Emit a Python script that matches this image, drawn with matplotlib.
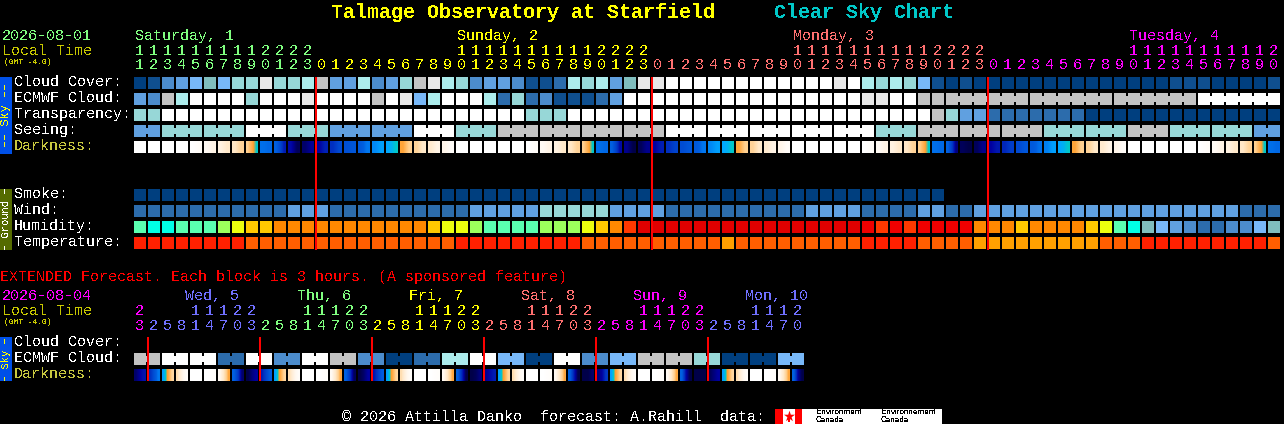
import matplotlib
matplotlib.use('Agg')
import numpy as np
import matplotlib.pyplot as plt
from matplotlib.colors import LinearSegmentedColormap
from matplotlib.patches import Rectangle

# ------------------------data
# cloud style colour scale, index = code used in the rows below
SCALE = ['#003f7f', '#0f4f8f', '#2c6cac', '#4c8ccc', '#60a0e0', '#78b8f8',
         '#80bebe', '#97d7d7', '#acecec', '#c3c3c3', '#e8e8e8', '#ffffff']
HUM = {'a': '#00ffe6', 'b': '#5affb0', 'c': '#9cff5c', 'd': '#ecff0e',
       'e': '#ffc800', 'f': '#ff8800', 'g': '#ff3800', 'h': '#e00000', 'i': '#f00000',
       '6': SCALE[6], '5': SCALE[5], '4': SCALE[4], '3': SCALE[3], '2': SCALE[2]}
TEMP = {'r': '#ff2000', 'o': '#ff5e00', 'a': '#ffa000'}

hours = list(range(11, 24)) + list(range(24)) + list(range(24)) + list(range(21))
day_names = ['Saturday, 1', 'Sunday, 2', 'Monday, 3', 'Tuesday, 4']
day_lengths = [13, 24, 24, 21]
day_colors = ['#80ff80', '#ffff00', '#ff7070', '#ff00ff']

cloud_cover = [0, 1, 3, 4, 5, 6, 5, 7, 7, 10, 7, 7, 8,
               9, 4, 4, 8, 3, 4, 7, 9, 10, 8, 7, 3, 4, 4, 3, 1, 1, 2, 8, 7, 8, 4, 6, 10,
               10, 11, 11, 11, 11, 11, 11, 11, 11, 11, 11, 11, 11, 10, 11, 8, 7, 8, 7, 5, 1, 0, 1, 0,
               0, 0, 0, 0, 0, 0, 0, 0, 0, 0, 0, 0, 0, 1, 1, 1, 0, 0, 0, 0, 1]
ecmwf = [4, 3, 9, 8, 11, 11, 11, 11, 7, 11, 11, 11, 10,
         11, 11, 11, 11, 9, 11, 10, 5, 8, 11, 11, 11, 8, 2, 7, 2, 3, 1, 1, 1, 2, 4, 11, 11,
         11, 11, 11, 11, 11, 11, 11, 11, 11, 11, 11, 11, 11, 11, 11, 10, 10, 11, 11, 9, 9,
         9, 9, 9, 9, 9, 9, 9, 9, 9, 9, 9, 9, 9, 9, 9, 9, 9, 9, 11, 11, 11, 11, 11, 11]
ecmwf_groups = [1] * 58 + [6, 6, 6, 6]
transparency = [7, 7] + [11] * 26 + [7, 7, 7] + [11] * 26 + [9, 7, 4, 4] \
    + [2] * 7 + [0] * 14
seeing = [4, 4, 7, 7, 7, 7, 7, 7, 11, 11, 11, 7, 7, 7, 4, 4, 4, 4, 4, 4, 11, 11, 11,
          7, 7, 7, 9, 9, 9, 9, 9, 9, 9, 9, 9, 9, 9, 9, 11, 11, 11, 11, 11, 11, 11, 11, 11,
          11, 11, 11, 11, 11, 11, 7, 7, 7, 9, 9, 9, 9, 9, 9, 9, 9, 9, 7, 7, 7, 7, 7, 7,
          9, 9, 9, 7, 7, 7, 7, 7, 7, 4, 4]
seeing_groups = [2] + [3] * 26 + [2]
smoke = [0] * 58
wind = [2] * 11 + [4, 4, 4] + [2] * 10 + [4] * 5 + [7] * 5 + [4] * 4 + [2] * 10 \
    + [4] * 4 + [2] * 4 + [4, 4, 2, 2] + [4] * 19 + [2, 2, 2]
humidity = list('baabbbcdee' + 'f' * 11 + 'eddcbbbbcccdefg' + 'h' * 16 + 'igigiiii'
                + 'fffeffffedba' + '654322' + '3356')
temperature = list('r' * 8 + 'o' * 15 + 'r' * 9 + 'o' * 10 + 'a' + 'o' * 9 + 'r' * 4
                   + 'o' * 4 + 'a' * 9 + 'ooo' + 'r' * 9 + 'o')

# darkness, 0 = daylight, 1 = darkest, samples across each hour block
darkness = [
    (0, 0), (0, 0), (0, 0), (0, 0), (0, .03), (.05, .12), (.14, .24), (.25, .36),
    (.38, .44, .50, .53), (.63, .64), (.65, .72, .84), (.88, .98), (.96, .91),
    (.90, .83), (.80, .72), (.70, .68), (.67, .62), (.60, .57), (.56, .55, .53), (.49, .38),
    (.36, .24), (.22, .12), (.10, .03), (0, 0), (0, 0), (0, 0), (0, 0), (0, 0), (0, .03),
    (.05, .12), (.14, .24), (.25, .36), (.38, .44, .50, .53), (.63, .64), (.65, .74, .88),
    (.92, 1.0), (.98, .92),
    (.90, .84), (.80, .74), (.71, .68), (.67, .62), (.60, .57), (.56, .55, .53), (.49, .38),
    (.36, .24), (.22, .12), (.10, .03), (0, 0), (0, 0), (0, 0), (0, 0), (0, 0), (0, .03),
    (.05, .12), (.14, .24), (.25, .36), (.38, .44, .50, .53), (.63, .64), (.65, .76, .94),
    (.98, 1.0), (.98, .92),
    (.90, .85), (.82, .76), (.72, .68), (.67, .63), (.61, .57), (.56, .55, .53), (.49, .38),
    (.36, .24), (.22, .12), (.10, .03), (0, 0), (0, 0), (0, 0), (0, 0), (0, 0), (0, .03),
    (.05, .12), (.14, .24), (.25, .36), (.38, .44, .50, .53), (.63, .64),
]

ext_hours = [23] + [2, 5, 8, 11, 14, 17, 20, 23] * 5 + [2, 5, 8, 11, 14, 17, 20]
ext_names = ['Wed, 5', 'Thu, 6', 'Fri, 7', 'Sat, 8', 'Sun, 9', 'Mon, 10']
ext_lengths = [1, 8, 8, 8, 8, 8, 7]
ext_colors = ['#ff00ff', '#7070ff', '#80ff80', '#ffff00', '#ff7070', '#ff00ff', '#7070ff']
ext_ecmwf = [9, 11, 11, 2, 11, 3, 11, 9, 3, 0, 2, 8, 11, 5, 0, 11, 3, 5, 9, 9, 7, 0, 0, 5]
ext_darkness = [
    (.96, .90, .86), (.80, .70, .62), (.57, .53, .49, .42, .34), (.30, .18, .08, .03),
    (0, 0), (0, .02), (.06, .20, .34, .48), (.65, .76, .96),
    (1.0, .94, .90), (.84, .74, .66), (.57, .53, .49, .42, .34), (.30, .18, .08, .03),
    (0, 0), (0, .02), (.06, .20, .34, .48), (.65, .78, .98),
    (1.0, .96, .90), (.86, .76, .66), (.57, .53, .49, .42, .34), (.30, .18, .08, .03),
    (0, 0), (0, .02), (.06, .20, .34, .48), (.65, .82, 1.0),
    (1.0, .98, .94), (.92, .88, .84), (.57, .53, .49, .42, .34), (.30, .18, .08, .03),
    (0, 0), (0, .02), (.06, .20, .34, .48), (.65, .84, 1.0),
    (1.0, 1.0, .96), (.94, .90, .78), (.57, .53, .49, .42, .34), (.30, .18, .08, .03),
    (0, 0), (0, .02), (.06, .20, .34, .48), (.65, .88, 1.0),
    (1.0, 1.0, 1.0), (.98, .94, .90), (.57, .53, .49, .42, .34), (.30, .18, .08, .03),
    (0, 0), (0, .02), (.06, .20, .34, .48), (.65, .90, 1.0),
]

# ------------------------plotting
plt.rcParams['font.family'] = ['Liberation Mono', 'DejaVu Sans Mono']
plt.rcParams['text.antialiased'] = False
plt.rcParams['text.hinting'] = 'native'

dark_cmap = LinearSegmentedColormap.from_list('darkness', [
    (0.00, '#ffffff'), (0.12, '#fff4e6'), (0.25, '#ffe8c8'), (0.38, '#ffd090'),
    (0.50, '#ffa030'), (0.53, '#00c8c8'), (0.56, '#00a8ff'), (0.62, '#0078f0'),
    (0.65, '#0060e0'), (0.80, '#0030c0'), (0.90, '#0000a0'), (1.00, '#000048')], N=512)

LEFT = 134
STEP = 14
SIZE = 12
MAIN_ROWS = [77, 93, 109, 125, 141]
GROUND_ROWS = [189, 205, 221, 237]

fig = plt.figure(figsize=(12.84, 4.24), dpi=100, facecolor='black')
ax = fig.add_axes([0, 0, 1, 1])
ax.set_facecolor('black')
ax.axis('off')


def draw_row(colors, y):
    xs = [LEFT + i * STEP for i in range(len(colors))]
    ax.bar(xs, [SIZE] * len(xs), width=SIZE, bottom=y, align='edge',
           color=colors, linewidth=0, antialiased=False)


def draw_links(colors, groups, y):
    # merged blocks are joined by a narrower bridge in the gap
    col = 0
    for n in groups:
        for i in range(col, col + n - 1):
            ax.add_patch(Rectangle((LEFT + (i + 1) * STEP - 2, y + 3), 2, 6,
                                   color=colors[i], linewidth=0, antialiased=False))
        col += n


def draw_dark(samples, y):
    for i, s in enumerate(samples):
        x = LEFT + i * STEP
        ax.imshow(np.array([s], dtype=float), cmap=dark_cmap, vmin=0, vmax=1, aspect='auto',
                  interpolation='bilinear', interpolation_stage='data',
                  extent=(x, x + SIZE, y + SIZE, y))


def draw_hours(hrs, lengths, colors, y_tens, y_ones):
    cols = []
    for n, c in zip(lengths, colors):
        cols += [c] * n
    for i, (h, c) in enumerate(zip(hrs, cols)):
        x = LEFT + i * STEP + SIZE / 2 - 0.7
        if h >= 10:
            ax.text(x, y_tens, str(h // 10), color=c, ha='center', va='center', fontsize=10.8)
        ax.text(x, y_ones, str(h % 10), color=c, ha='center', va='center', fontsize=10.8)


def label(x, y, s, color='white', size=10.8, **kw):
    ax.text(x, y, s, color=color, fontsize=size, ha='left', va='center', **kw)


# title
label(331, 12, 'Talmage Observatory at Starfield', '#ffff00', 14.4, fontweight='bold')
label(774, 12, 'Clear Sky Chart', '#00c8c8', 14.4, fontweight='bold')

# main header
label(2, 36, '2026-08-01', '#80ff80')
label(2, 51, 'Local Time', '#c8c800')
label(4, 62, '(GMT -4.0)', '#c8c800', 5.8)
draw_hours(hours, day_lengths, day_colors, 51, 65)
col = 0
for name, n, c in zip(day_names, day_lengths, day_colors):
    first = col + [i for i in range(n) if hours[col + i] >= 10][0]
    label(LEFT + first * STEP + 1, 36, name, c)
    col += n

# main rows
for name, y in zip(['Cloud Cover:', 'ECMWF Cloud:', 'Transparency:', 'Seeing:'], MAIN_ROWS):
    label(14, y + 5, name)
label(14, MAIN_ROWS[4] + 5, 'Darkness:', '#c8c840')
for name, y in zip(['Smoke:', 'Wind:', 'Humidity:', 'Temperature:'], GROUND_ROWS):
    label(14, y + 5, name)

ec = [SCALE[v] for v in ecmwf]
se = [SCALE[v] for v in seeing]
draw_row([SCALE[v] for v in cloud_cover], MAIN_ROWS[0])
draw_row(ec, MAIN_ROWS[1])
draw_links(ec, ecmwf_groups, MAIN_ROWS[1])
draw_row([SCALE[v] for v in transparency], MAIN_ROWS[2])
draw_row(se, MAIN_ROWS[3])
draw_links(se, seeing_groups, MAIN_ROWS[3])
draw_dark(darkness, MAIN_ROWS[4])

draw_row([SCALE[v] for v in smoke], GROUND_ROWS[0])
draw_row([SCALE[v] for v in wind], GROUND_ROWS[1])
draw_row([HUM[v] for v in humidity], GROUND_ROWS[2])
draw_row([TEMP[v] for v in temperature], GROUND_ROWS[3])

# midnight markers
for i in [13, 37, 61]:
    ax.plot([LEFT + i * STEP] * 2, [77, 250], color='#ff0000', lw=1.45, solid_capstyle='butt')

# side bars
ax.add_patch(Rectangle((0, 77), 12, 77, color='#0050e8', linewidth=0))
ax.text(6, 115, '\u2013\u2013 Sky \u2013\u2013', color='#ffff00', rotation=90,
        ha='center', va='center', fontsize=8.6)
ax.add_patch(Rectangle((0, 189), 12, 61, color='#556b00', linewidth=0))
ax.text(6, 219, '\u2013 Ground \u2013', color='white', rotation=90,
        ha='center', va='center', fontsize=7.6)

# extended forecast
label(0, 277, 'EXTENDED Forecast. Each block is 3 hours. (A sponsored feature)', '#ff0000')
label(2, 296, '2026-08-04', '#ff00ff')
label(2, 311, 'Local Time', '#c8c800')
label(4, 322, '(GMT -4.0)', '#c8c800', 5.8)
draw_hours(ext_hours, ext_lengths, ext_colors, 311, 326)
col = ext_lengths[0]
for name, n, c in zip(ext_names, ext_lengths[1:], ext_colors[1:]):
    label(LEFT + (col + 3) * STEP - 5, 296, name, c)
    col += n

label(14, 342, 'Cloud Cover:')
label(14, 358, 'ECMWF Cloud:')
label(14, 374, 'Darkness:', '#c8c840')
# each extended colour covers two columns, joined by a bridge
ee = []
for v in ext_ecmwf:
    ee += [SCALE[v], SCALE[v]]
draw_row(ee, 353)
draw_links(ee, [2] * 24, 353)
draw_dark(ext_darkness, 369)
for i in range(6):
    ax.plot([LEFT + (1 + 8 * i) * STEP] * 2, [337, 381], color='#ff0000', lw=1.45,
            solid_capstyle='butt')
ax.add_patch(Rectangle((0, 337), 12, 44, color='#0050e8', linewidth=0))
ax.text(6, 359, '\u2013 Sky \u2013', color='#ffff00', rotation=90,
        ha='center', va='center', fontsize=7.6)

# footer
label(342, 417, '\u00a9 2026 Attilla Danko  forecast: A.Rahill  data:')
ax.add_patch(Rectangle((775, 409), 167, 15, color='white', linewidth=0))
ax.add_patch(Rectangle((775, 409), 8, 15, color='#ff0000', linewidth=0))
ax.add_patch(Rectangle((795, 409), 7, 15, color='#ff0000', linewidth=0))
ax.scatter([789], [415.5], s=70, marker='*', color='#ff0000', linewidth=0)
ax.add_patch(Rectangle((788, 418), 2, 4, color='#ff0000', linewidth=0))
for x, s in [(816, 'Environment\nCanada'), (881, 'Environnement\nCanada')]:
    ax.text(x, 416.5, s, color='black', fontsize=5.8, ha='left', va='center',
            linespacing=1.0, family=['Liberation Sans', 'DejaVu Sans'])

ax.set_xlim(0, 1284)
ax.set_ylim(424, 0)
fig.savefig('out.png', dpi=100, facecolor='black')
